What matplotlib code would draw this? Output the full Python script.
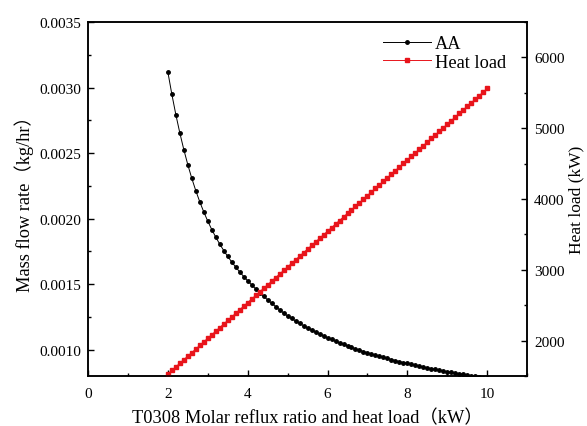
import numpy as np
import matplotlib
matplotlib.use("Agg")
import matplotlib.pyplot as plt
from matplotlib.ticker import MultipleLocator, FormatStrFormatter

plt.rcParams["font.family"] = ["Liberation Serif", "Noto Sans CJK SC"]

# T0308 reflux-ratio sweep
reflux = [2.0, 2.1, 2.2, 2.3, 2.4, 2.5, 2.6, 2.7, 2.8, 2.9,
          3.0, 3.1, 3.2, 3.3, 3.4, 3.5, 3.6, 3.7, 3.8, 3.9,
          4.0, 4.1, 4.2, 4.3, 4.4, 4.5, 4.6, 4.7, 4.8, 4.9,
          5.0, 5.1, 5.2, 5.3, 5.4, 5.5, 5.6, 5.7, 5.8, 5.9,
          6.0, 6.1, 6.2, 6.3, 6.4, 6.5, 6.6, 6.7, 6.8, 6.9,
          7.0, 7.1, 7.2, 7.3, 7.4, 7.5, 7.6, 7.7, 7.8, 7.9,
          8.0, 8.1, 8.2, 8.3, 8.4, 8.5, 8.6, 8.7, 8.8, 8.9,
          9.0, 9.1, 9.2, 9.3, 9.4, 9.5, 9.6, 9.7, 9.8, 9.9, 10.0]

# AA mass flow in distillate, kg/hr
aa_flow = [0.003118, 0.002948, 0.002793, 0.002653, 0.002526, 0.002411, 0.002307, 0.002213, 0.002128, 0.002051,
           0.001981, 0.001917, 0.001859, 0.001806, 0.001757, 0.001712, 0.001670, 0.001631, 0.001594, 0.001559,
           0.001526, 0.001495, 0.001465, 0.001436, 0.001408, 0.001381, 0.001355, 0.001330, 0.001305, 0.001281,
           0.001258, 0.001239, 0.001220, 0.001202, 0.001184, 0.001167, 0.001151, 0.001136, 0.001121, 0.001106,
           0.001092, 0.001079, 0.001066, 0.001053, 0.001041, 0.001030, 0.001019, 0.001008, 0.000997, 0.000987,
           0.000978, 0.000968, 0.000959, 0.000950, 0.000942, 0.000934, 0.000926, 0.000918, 0.000910, 0.000903,
           0.000896, 0.000889, 0.000882, 0.000876, 0.000869, 0.000863, 0.000857, 0.000851, 0.000845, 0.000839,
           0.000834, 0.000828, 0.000823, 0.000818, 0.000813, 0.000808, 0.000803, 0.000798, 0.000793, 0.000788, 0.000784]

# reboiler heat load, kW
heat_load = [1530, 1580, 1631, 1681, 1732, 1782, 1832, 1883, 1933, 1984,
             2034, 2084, 2135, 2185, 2236, 2286, 2336, 2387, 2437, 2488,
             2538, 2588, 2639, 2689, 2740, 2790, 2840, 2891, 2941, 2992,
             3042, 3092, 3143, 3193, 3244, 3294, 3344, 3395, 3445, 3496,
             3546, 3596, 3647, 3697, 3748, 3798, 3848, 3899, 3949, 4000,
             4050, 4100, 4151, 4201, 4252, 4302, 4352, 4403, 4453, 4504,
             4554, 4604, 4655, 4705, 4756, 4806, 4856, 4907, 4957, 5008,
             5058, 5108, 5159, 5209, 5260, 5310, 5360, 5411, 5461, 5512, 5562]

fig = plt.figure(figsize=(5.87, 4.27), dpi=100)
ax1 = fig.add_axes([0.150, 0.117, 0.748, 0.829])
ax2 = ax1.twinx()

l1, = ax1.plot(reflux, aa_flow, "-", color="black", lw=0.7, marker="o", ms=2.5, label="AA")
l2, = ax2.plot(reflux, heat_load, "-", color="#e8141b", lw=0.7, marker="s", ms=2.5,
               mec="#e8141b", mfc="#e8141b", label="Heat load")

ax1.set_xlim(0, 11)
ax1.set_ylim(0.0008, 0.0035)
ax2.set_ylim(1500, 6500)

ax1.xaxis.set_major_locator(MultipleLocator(2))
ax1.xaxis.set_minor_locator(MultipleLocator(1))
ax1.yaxis.set_major_locator(MultipleLocator(0.0005))
ax1.yaxis.set_minor_locator(MultipleLocator(0.00025))
ax1.yaxis.set_major_formatter(FormatStrFormatter("%.4f"))
ax2.yaxis.set_major_locator(MultipleLocator(1000))
ax2.yaxis.set_minor_locator(MultipleLocator(500))

for ax in (ax1, ax2):
    ax.tick_params(which="major", direction="in", length=4, width=1, labelsize=11, top=False, pad=5)
    ax.tick_params(which="minor", direction="in", length=2.5, width=1, top=False)
    for s in ax.spines.values():
        s.set_linewidth(1.1)
ax1.tick_params(axis="x", which="major", pad=8)
ax2.tick_params(axis="y", which="both", left=False)
ax1.tick_params(axis="y", which="both", right=False)

ax1.set_xlabel("T0308 Molar reflux ratio and heat load（kW）", fontsize=13.2, labelpad=6)
ax1.set_ylabel("Mass flow rate（kg/hr）", fontsize=13.2, labelpad=4)
ax2.set_ylabel("Heat load (kW)", fontsize=12.5, labelpad=3)

ax1.legend([l1, l2], ["AA", "Heat load"], loc="upper right", bbox_to_anchor=(0.99, 1.01),
           frameon=False, fontsize=13.2, numpoints=1, handlelength=2.6, handletextpad=0.25,
           labelspacing=0.1)

fig.savefig("out.png", dpi=100)
